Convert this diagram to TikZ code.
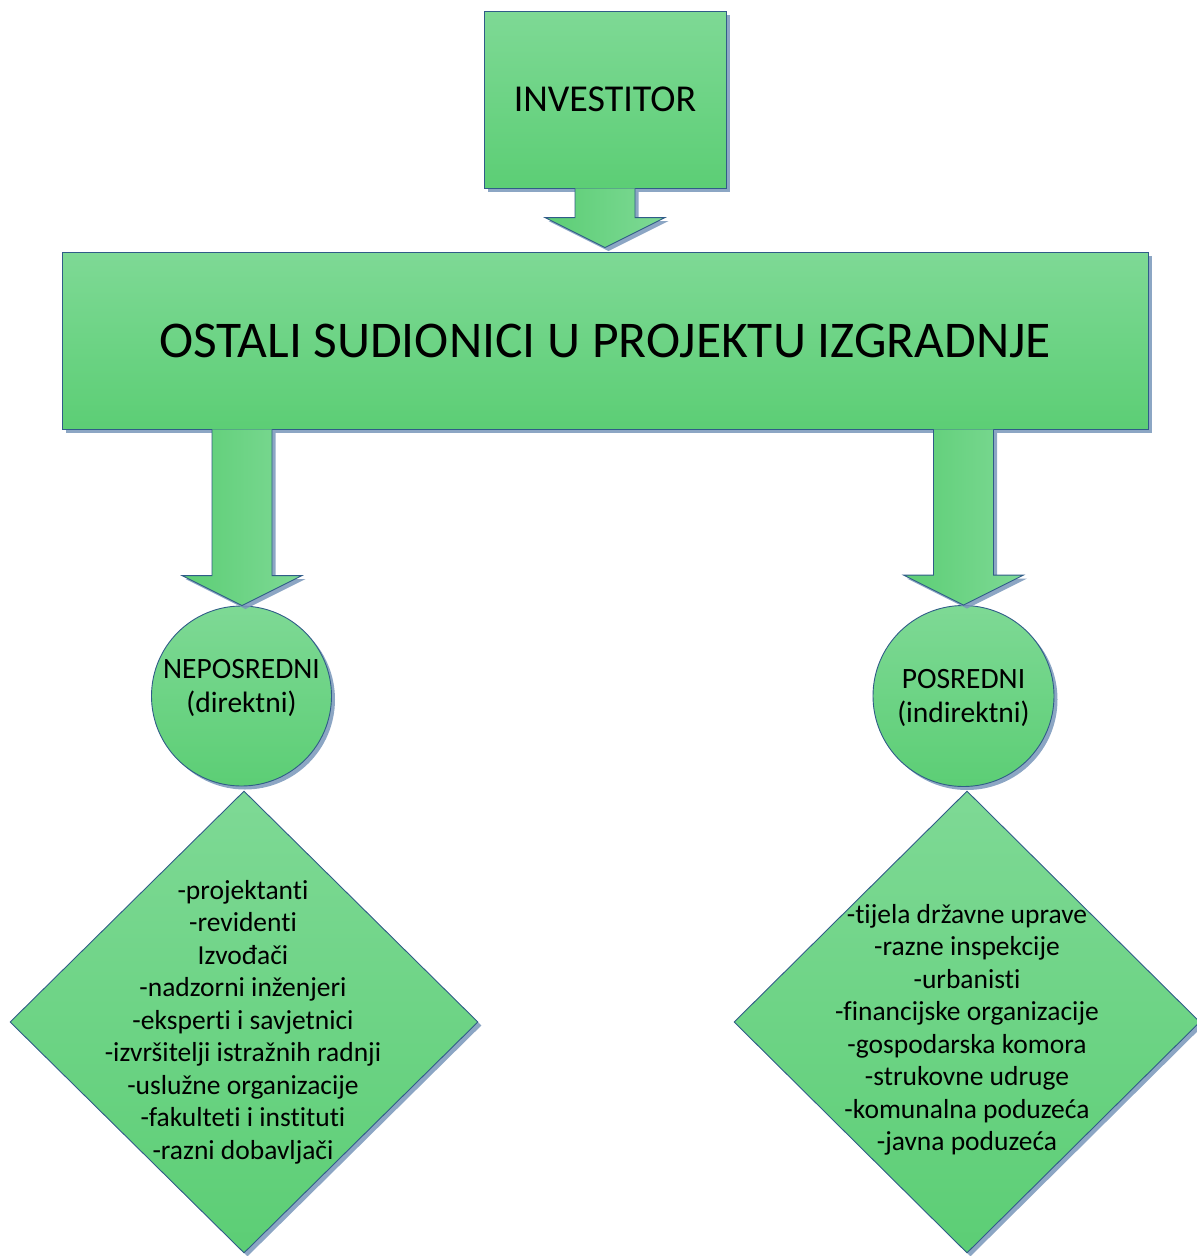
\documentclass[tikz,border=0pt]{standalone}
\usepackage{fontspec}
\setmainfont{Carlito}[Ligatures={NoCommon,NoRare,NoContextual}]
\usetikzlibrary{shapes.geometric,shadows,calc}
\definecolor{gtop}{RGB}{126,217,149}
\definecolor{gbot}{RGB}{92,206,117}
\definecolor{edgeblue}{RGB}{48,92,136}
\definecolor{shad}{RGB}{120,150,186}
\tikzset{
  softshadow/.style={drop shadow={shadow xshift=3.5pt, shadow yshift=-3.5pt, fill=shad, opacity=0.85}},
  shapebase/.style={draw=edgeblue, line width=0.9pt, top color=gtop, bottom color=gbot, softshadow, inner sep=0pt},
  boxnode/.style={shapebase, rectangle},
  circnode/.style={shapebase, circle},
  diamnode/.style={shapebase, diamond},
  arrowbody/.style={draw=edgeblue, line width=0.9pt, left color=gbot, right color=gtop, softshadow},
  bigtext/.style={font=\fontsize{51.5}{60}\selectfont},
  invtext/.style={font=\fontsize{38}{44}\selectfont},
  circtext/.style={font=\fontsize{29.5}{34}\selectfont, align=center, inner sep=0pt},
  listtext/.style={font=\fontsize{27.5}{32.5}\selectfont, align=center, inner sep=0pt},
}
\newcommand\blockarrow[2]{%
  \path let \p1=(#1), \p2=(#2) in [arrowbody]
    (\x1-30pt,\y1) -- (\x1-30pt,\y2+30pt) -- (\x1-60pt,\y2+30pt) -- (\x1,\y2)
    -- (\x1+60pt,\y2+30pt) -- (\x1+30pt,\y2+30pt) -- (\x1+30pt,\y1);}
\begin{document}
\begin{tikzpicture}[x=1pt,y=-1pt]
\useasboundingbox (0,0) rectangle (1197,1256);
% boxes
\node[boxnode, minimum width=242pt, minimum height=177pt, invtext] (inv) at (605,99.5) {INVESTITOR};
\node[boxnode, minimum width=1086pt, minimum height=177pt, bigtext] (big) at (605,340.5) {OSTALI SUDIONICI U PROJEKTU IZGRADNJE};
% circles
\node[circnode, minimum size=180pt] (lc) at (241.5,696) {};
\node[circnode, minimum size=181pt] (rc) at (963.5,696) {};
\node[circtext] (lct) at (241.5,687.5) {NEPOSREDNI\\(direktni)};
\node[circtext] (rct) at (963.5,697.5) {POSREDNI\\(indirektni)};
% diamonds
\node[diamnode, minimum width=468pt, minimum height=462pt] (ld) at (244,1022) {};
\node[diamnode, minimum width=466pt, minimum height=462pt] (rd) at (967,1022) {};
\node[listtext] (ldt) at (243,1022) {-projektanti\\-revidenti\\Izvođači\\-nadzorni inženjeri\\-eksperti i savjetnici\\-izvršitelji istražnih radnji\\-uslužne organizacije\\-fakulteti i instituti\\-razni dobavljači};
\node[listtext] (rdt) at (967,1030) {-tijela državne uprave\\-razne inspekcije\\-urbanisti\\-financijske organizacije\\-gospodarska komora\\-strukovne udruge\\-komunalna poduzeća\\-javna poduzeća};
% block arrows
\blockarrow{inv.south}{[yshift=4pt]big.north}
\blockarrow{[xshift=-363pt]big.south}{lc.north}
\blockarrow{[xshift=358.5pt]big.south}{rc.north}
\end{tikzpicture}
\end{document}
